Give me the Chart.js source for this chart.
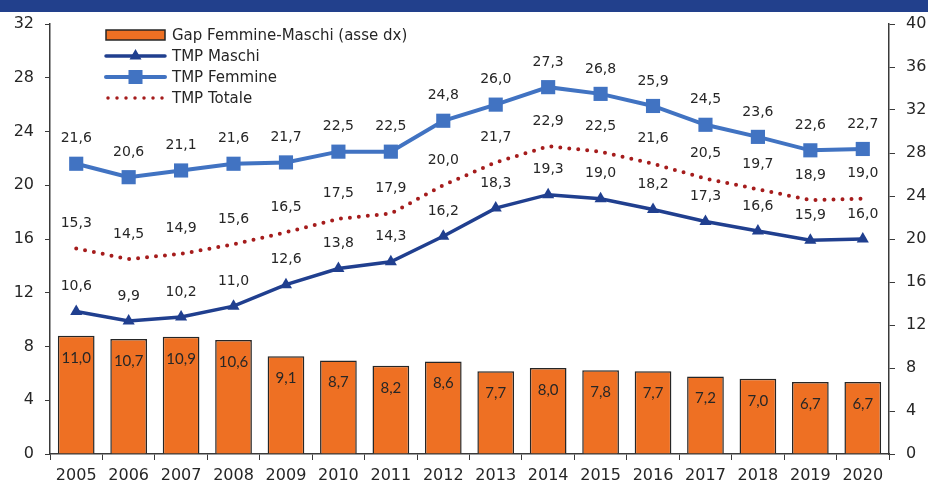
<!DOCTYPE html>
<html>
<head>
<meta charset="utf-8">
<script src="https://cdn.jsdelivr.net/npm/chart.js@4"></script>
<style>
  html, body { margin: 0; padding: 0; background: #fff; }
  #wrap { width: 928px; height: 484px; position: relative; }
</style>
</head>
<body>
<div id="wrap"><canvas id="chart" width="928" height="484"></canvas></div>
<script>
// --- Data ---
const years = ['2005', '2006', '2007', '2008', '2009', '2010', '2011', '2012', '2013', '2014', '2015', '2016', '2017', '2018', '2019', '2020'];
const tmpFemmine = [21.6, 20.6, 21.1, 21.6, 21.7, 22.5, 22.5, 24.8, 26.0, 27.3, 26.8, 25.9, 24.5, 23.6, 22.6, 22.7];
const tmpMaschi = [10.6, 9.9, 10.2, 11.0, 12.6, 13.8, 14.3, 16.2, 18.3, 19.3, 19.0, 18.2, 17.3, 16.6, 15.9, 16.0];
const tmpTotale = [15.3, 14.5, 14.9, 15.6, 16.5, 17.5, 17.9, 20.0, 21.7, 22.9, 22.5, 21.6, 20.5, 19.7, 18.9, 19.0];
const gapFM = [11.0, 10.7, 10.9, 10.6, 9.1, 8.7, 8.2, 8.6, 7.7, 8.0, 7.8, 7.7, 7.2, 7.0, 6.7, 6.7];

const COLORS = {
  band: '#22408c',
  orange: '#ee7023',
  maschi: '#203f8f',
  femmine: '#4173c2',
  totale: '#a51c1c',
  axis: '#3a3a3a',
  text: '#262626',
};

const fmt = v => v.toFixed(1).replace('.', ',');

// header band at the top (title is cut off in the source)
const bandPlugin = {
  id: 'band',
  beforeDraw(chart) {
    const ctx = chart.ctx;
    ctx.save();
    ctx.fillStyle = '#fff';
    ctx.fillRect(0, 0, chart.width, chart.height);
    ctx.fillStyle = COLORS.band;
    ctx.fillRect(0, 0, chart.width, 12);
    ctx.restore();
  }
};

// value labels for every dataset
const labelsPlugin = {
  id: 'valueLabels',
  afterDatasetsDraw(chart) {
    const ctx = chart.ctx;
    ctx.save();
    ctx.textAlign = 'center';
    ctx.textBaseline = 'middle';
    chart.data.datasets.forEach((ds, i) => {
      const meta = chart.getDatasetMeta(i);
      meta.data.forEach((el, j) => {
        const v = ds.data[j];
        if (ds.type === 'bar') {
          ctx.font = '15px Lato, "Liberation Sans", sans-serif';
          ctx.fillStyle = COLORS.text;
          ctx.fillText(fmt(v), el.x, el.y + 22);
        } else {
          ctx.font = '14px "DejaVu Sans", sans-serif';
          ctx.fillStyle = COLORS.text;
          ctx.fillText(fmt(v), el.x, el.y - 25);
        }
      });
    });
    ctx.restore();
  }
};

// legend drawn inside the plot area, top left
const legendPlugin = {
  id: 'innerLegend',
  afterDraw(chart) {
    const ctx = chart.ctx;
    const x0 = 106, x1 = 165, tx = 172;
    const rows = [35, 56, 77, 98];
    ctx.save();
    // bar swatch
    ctx.fillStyle = COLORS.orange;
    ctx.strokeStyle = COLORS.text;
    ctx.lineWidth = 1.5;
    ctx.fillRect(x0, rows[0] - 5, x1 - x0, 10);
    ctx.strokeRect(x0, rows[0] - 5, x1 - x0, 10);
    // maschi
    ctx.strokeStyle = COLORS.maschi;
    ctx.lineWidth = 3.5;
    ctx.lineCap = 'round';
    ctx.beginPath(); ctx.moveTo(x0, rows[1]); ctx.lineTo(x1, rows[1]); ctx.stroke();
    ctx.fillStyle = COLORS.maschi;
    const cx = (x0 + x1) / 2;
    ctx.beginPath();
    ctx.moveTo(cx, rows[1] - 7); ctx.lineTo(cx + 6, rows[1] + 3.5); ctx.lineTo(cx - 6, rows[1] + 3.5);
    ctx.closePath(); ctx.fill();
    // femmine
    ctx.strokeStyle = COLORS.femmine;
    ctx.lineWidth = 4;
    ctx.beginPath(); ctx.moveTo(x0, rows[2]); ctx.lineTo(x1, rows[2]); ctx.stroke();
    ctx.fillStyle = COLORS.femmine;
    ctx.fillRect(cx - 7, rows[2] - 7, 14, 14);
    // totale
    ctx.strokeStyle = COLORS.totale;
    ctx.lineWidth = 3.5;
    ctx.setLineDash([0, 9]);
    ctx.beginPath(); ctx.moveTo(x0 + 2, rows[3]); ctx.lineTo(x1, rows[3]); ctx.stroke();
    ctx.setLineDash([]);
    // texts
    ctx.fillStyle = COLORS.text;
    ctx.font = '15px "DejaVu Sans", sans-serif';
    ctx.textBaseline = 'middle';
    ctx.textAlign = 'left';
    ['Gap Femmine-Maschi (asse dx)', 'TMP Maschi', 'TMP Femmine', 'TMP Totale'].forEach((t, i) => {
      ctx.fillText(t, tx, rows[i] + 1);
    });
    ctx.restore();
  }
};

const tickFont = { family: '"DejaVu Sans", sans-serif', size: 16 };

new Chart(document.getElementById('chart').getContext('2d'), {
  type: 'bar',
  data: {
    labels: years,
    datasets: [
      {
        type: 'line', label: 'TMP Femmine', data: tmpFemmine, yAxisID: 'y', order: 1,
        borderColor: COLORS.femmine, backgroundColor: COLORS.femmine, borderWidth: 4,
        pointStyle: 'rect', pointRadius: 10, pointBorderWidth: 0, tension: 0,
      },
      {
        type: 'line', label: 'TMP Maschi', data: tmpMaschi, yAxisID: 'y', order: 2,
        borderColor: COLORS.maschi, backgroundColor: COLORS.maschi, borderWidth: 3.5,
        pointStyle: 'triangle', pointRadius: 7, pointBorderWidth: 0, tension: 0,
      },
      {
        type: 'line', label: 'TMP Totale', data: tmpTotale, yAxisID: 'y', order: 3,
        borderColor: COLORS.totale, borderWidth: 4, borderDash: [0, 9], borderCapStyle: 'round',
        pointRadius: 0, tension: 0,
      },
      {
        type: 'bar', label: 'Gap Femmine-Maschi (asse dx)', data: gapFM, yAxisID: 'y1', order: 4,
        backgroundColor: COLORS.orange, borderColor: COLORS.text, borderWidth: 1.5,
        barPercentage: 0.7, categoryPercentage: 1,
      },
    ]
  },
  options: {
    responsive: false,
    animation: false,
    layout: { padding: { top: 24, left: 0, right: 0, bottom: 0 } },
    plugins: { legend: { display: false }, tooltip: { enabled: false } },
    scales: {
      x: {
        offset: true,
        grid: { display: true, offset: true, drawOnChartArea: false, drawTicks: true, tickLength: 6, color: COLORS.axis },
        border: { display: true, color: COLORS.axis, width: 1.5 },
        ticks: { font: tickFont, color: COLORS.text, padding: 6, maxRotation: 0, autoSkip: false },
        afterFit(scale) { scale.height = 30; },
      },
      y: {
        position: 'left', min: 0, max: 32,
        grid: { display: true, drawOnChartArea: false, drawTicks: true, tickLength: 5, color: COLORS.axis },
        border: { display: true, color: COLORS.axis, width: 1.5 },
        ticks: { stepSize: 4, font: tickFont, color: COLORS.text, padding: 11 },
        afterFit(scale) { scale.width = 50; },
      },
      y1: {
        position: 'right', min: 0, max: 40,
        grid: { display: true, drawOnChartArea: false, drawTicks: true, tickLength: 6, color: COLORS.axis },
        border: { display: true, color: COLORS.axis, width: 1.5 },
        ticks: { stepSize: 4, font: tickFont, color: COLORS.text, padding: 11 },
        afterFit(scale) { scale.width = 39; },
      },
    }
  },
  plugins: [bandPlugin, labelsPlugin, legendPlugin]
});
</script>
</body>
</html>
